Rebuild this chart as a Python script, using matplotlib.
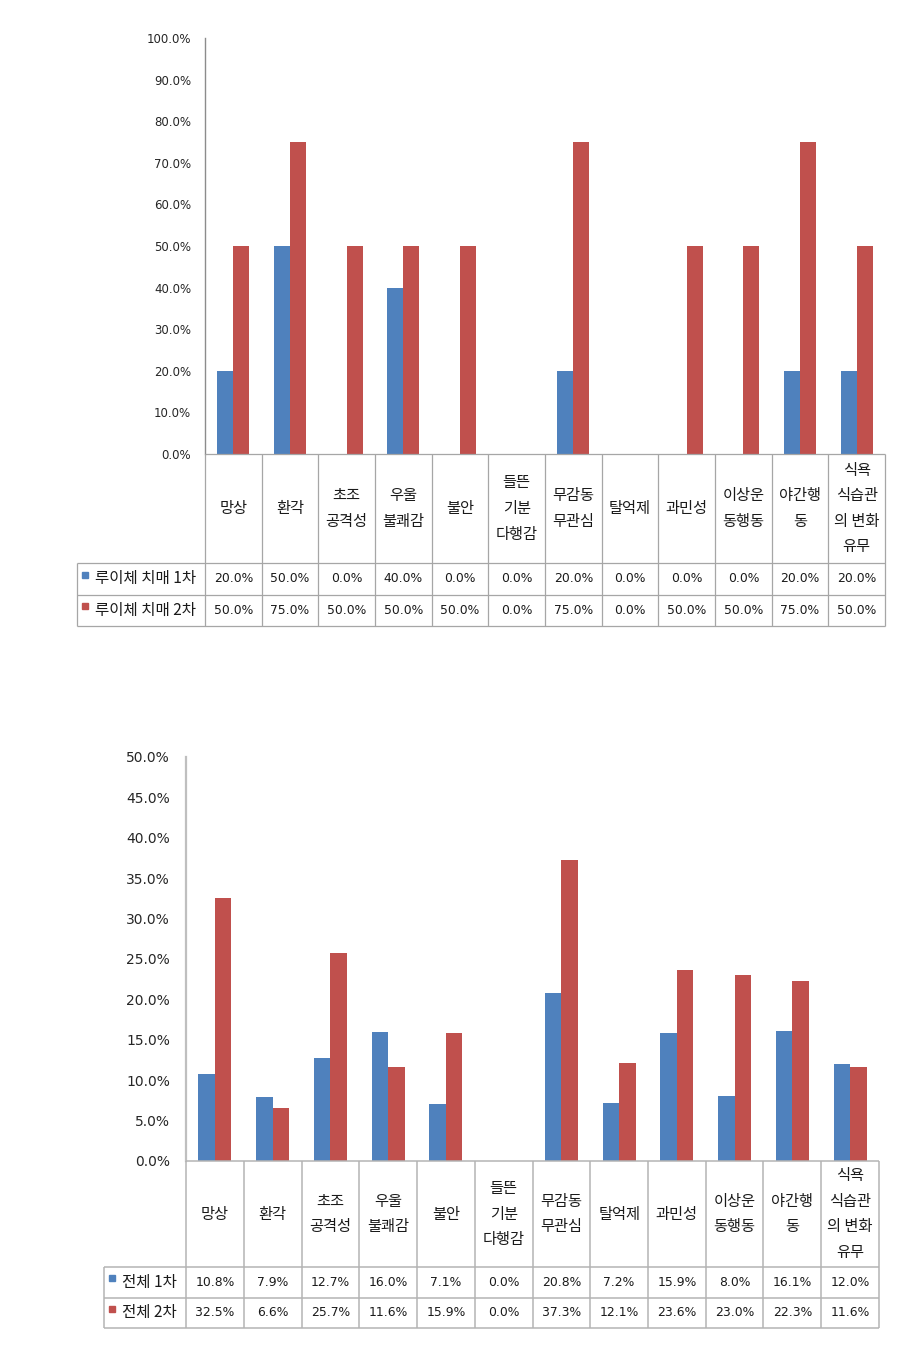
import numpy as np
import matplotlib
matplotlib.use("Agg")
import matplotlib.pyplot as plt
from matplotlib.ticker import FuncFormatter

plt.rcParams['font.family'] = ['DejaVu Sans', 'Noto Sans CJK KR']

W, H = 908, 1351

categories = ['망상', '환각', '초조\n공격성', '우울\n불쾌감', '불안', '들뜬\n기분\n다행감',
              '무감동\n무관심', '탈억제', '과민성', '이상운\n동행동', '야간행\n동',
              '식욕\n식습관\n의 변화\n유무']

# chart 1: Lewy body dementia
lewy_names = ['루이체 치매 1차', '루이체 치매 2차']
lewy_1 = [20.0, 50.0, 0.0, 40.0, 0.0, 0.0, 20.0, 0.0, 0.0, 0.0, 20.0, 20.0]
lewy_2 = [50.0, 75.0, 50.0, 50.0, 50.0, 0.0, 75.0, 0.0, 50.0, 50.0, 75.0, 50.0]

# chart 2: total
total_names = ['전체 1차', '전체 2차']
total_1 = [10.8, 7.9, 12.7, 16.0, 7.1, 0.0, 20.8, 7.2, 15.9, 8.0, 16.1, 12.0]
total_2 = [32.5, 6.6, 25.7, 11.6, 15.9, 0.0, 37.3, 12.1, 23.6, 23.0, 22.3, 11.6]

BLUE = '#4F81BD'
RED = '#C0504D'


def px_axes(fig, left, top, right, bottom):
    return fig.add_axes([left / W, 1 - bottom / H, (right - left) / W, (bottom - top) / H])


def draw_chart(fig, box, table_left, header_h, row_h, ymax, step, s1, s2, names,
               tick_size, tick_pad, axis_col, axis_lw, line_col, line_lw):
    left, top, right, bottom = box
    n = len(categories)
    ax = px_axes(fig, left, top, right, bottom)
    x = np.arange(n) + 0.5
    w = 0.285
    ax.bar(x - w / 2, s1, w, color=BLUE)
    ax.bar(x + w / 2, s2, w, color=RED)
    ax.set_xlim(0, n)
    ax.set_ylim(0, ymax)
    ax.set_yticks(np.arange(0, ymax + step / 2, step))
    ax.yaxis.set_major_formatter(FuncFormatter(lambda v, _: f'{v:.1f}%'))
    ax.set_xticks([])
    ax.tick_params(axis='y', length=0, pad=tick_pad, labelsize=tick_size, labelcolor='#262626')
    for s in ['top', 'right', 'bottom']:
        ax.spines[s].set_visible(False)
    ax.spines['left'].set_color(axis_col)
    ax.spines['left'].set_linewidth(axis_lw)

    # data table below the plot
    total_h = header_h + 2 * row_h
    tax = px_axes(fig, table_left, bottom, right, bottom + total_h)
    cw = (right - left) / n
    L = (left - table_left) / cw
    tax.set_xlim(-L, n)
    tax.set_ylim(total_h, 0)
    tax.axis('off')
    kw = dict(color=line_col, lw=line_lw, clip_on=False, solid_capstyle='butt')
    tax.plot([0, n], [0, 0], **kw)
    for k in range(1, 3):
        tax.plot([-L, n], [header_h + (k - 1) * row_h, header_h + (k - 1) * row_h], **kw)
    tax.plot([-L, n], [total_h, total_h], **kw)
    for i in range(n + 1):
        tax.plot([i, i], [0, total_h], **kw)
    tax.plot([-L, -L], [header_h, total_h], **kw)

    pitch = 25.5
    for i, c in enumerate(categories):
        lines = c.split('\n')
        for j, t in enumerate(lines):
            yy = header_h / 2 + (j - (len(lines) - 1) / 2) * pitch
            tax.text(i + 0.5, yy, t, ha='center', va='center', fontsize=11,
                     family=['Noto Sans CJK KR'], color='#1a1a1a')
    for r, (vals, name, col) in enumerate(zip([s1, s2], names, [BLUE, RED])):
        yc = header_h + (r + 0.5) * row_h
        for i, v in enumerate(vals):
            tax.text(i + 0.5, yc, f'{v:.1f}%', ha='center', va='center', fontsize=8.9,
                     color='#1a1a1a')
        tax.plot([-L + 0.14], [yc - 4], marker='s', ms=5, color=col, clip_on=False)
        tax.text(-L + 0.31, yc, name, ha='left', va='center', fontsize=11.2,
                 family=['Noto Sans CJK KR'], color='#1a1a1a')


fig = plt.figure(figsize=(W / 100, H / 100), dpi=100)

draw_chart(fig, (205, 38, 885, 454), 77, 109, 31.5, 100, 10, lewy_1, lewy_2, lewy_names,
           8.5, 10, '#8C8C8C', 1.0, '#A6A6A6', 0.9)
draw_chart(fig, (186, 757, 879, 1161), 104, 106, 30.5, 50, 5, total_1, total_2, total_names,
           10, 11.5, '#BFBFBF', 1.6, '#B4B4B4', 1.1)

fig.savefig('out.png', dpi=100, facecolor='white')
